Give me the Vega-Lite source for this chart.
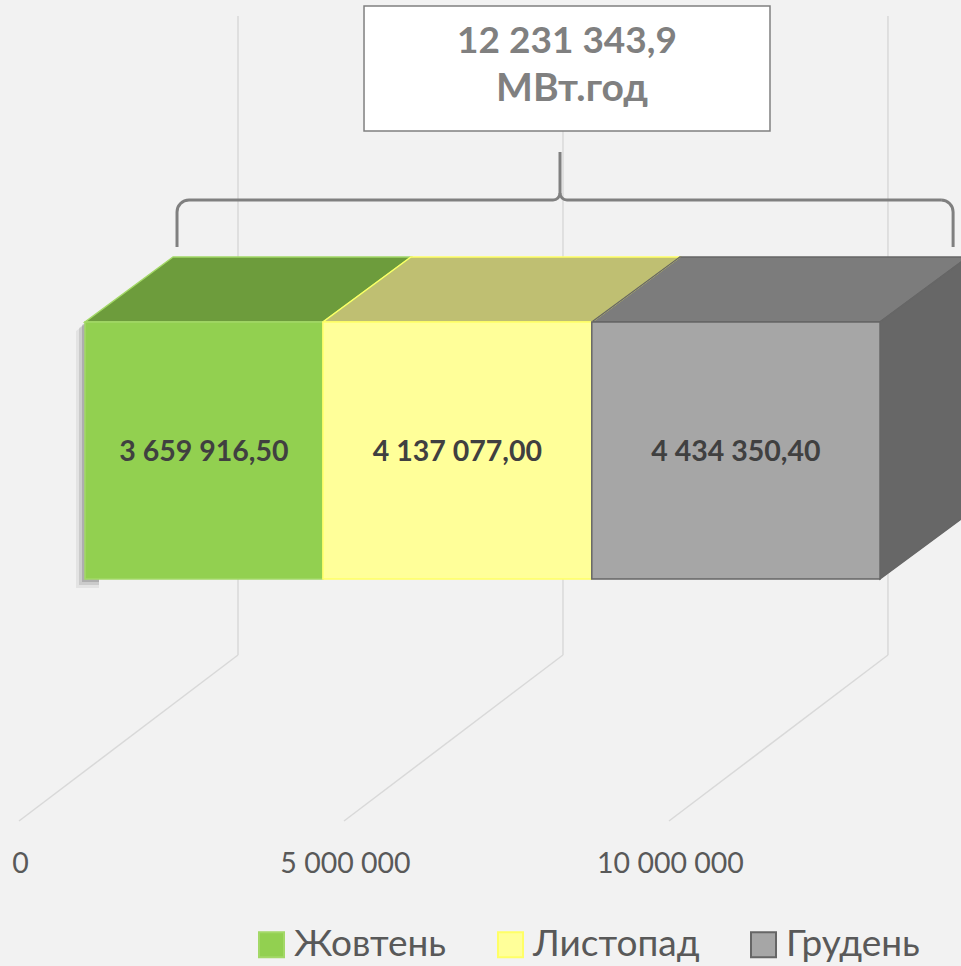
{
  "$schema": "https://vega.github.io/schema/vega-lite/v6.json",
  "width": 961,
  "height": 966,
  "autosize": {"type": "none"},
  "padding": 0,
  "background": "#f2f2f2",
  "config": {
    "view": {"stroke": null},
    "locale": {"number": {"decimal": ",", "thousands": " ", "grouping": [3], "currency": ["", ""]}},
    "axis": {"grid": false, "domain": false, "ticks": false}
  },
  "datasets": {
    "months": [
      {"month": "Жовтень", "order": 1, "value": 3659916.5},
      {"month": "Листопад", "order": 2, "value": 4137077.0},
      {"month": "Грудень", "order": 3, "value": 4434350.4}
    ],
    "ticks": [{"t": 0}, {"t": 5000000}, {"t": 10000000}]
  },
  "layer": [
    {
      "data": {"name": "ticks"},
      "transform": [
        {"calculate": "datum.t + 2353905", "as": "xb"},
        {"calculate": "datum.t - 1015410", "as": "xf"}
      ],
      "layer": [
        {
          "mark": {"type": "rule", "color": "#d9d9d9", "strokeWidth": 1.5},
          "encoding": {
            "x": {
              "field": "xb", "type": "quantitative",
              "scale": {"domain": [-1307725, 13477260], "nice": false, "zero": false},
              "axis": {"orient": "bottom", "values": [0, 5000000, 10000000], "format": ",.0f", "title": null, "labelFont": "Lato", "labelFontSize": 28.5, "labelColor": "#595959", "labelOffset": -65, "labelFlush": false, "labelOverlap": false, "offset": -119, "labelPadding": 2, "domain": false, "ticks": false, "grid": false}
            },
            "y": {"datum": -0.29572, "type": "quantitative", "scale": {"domain": [-1.50584, 2.25292], "nice": false, "zero": false}, "axis": null},
            "y2": {"datum": 2.19066}
          }
        },
        {
          "mark": {"type": "rule", "color": "#d9d9d9", "strokeWidth": 1.5},
          "encoding": {
            "x": {"field": "xb", "type": "quantitative"},
            "x2": {"field": "xf"},
            "y": {"datum": -0.29572, "type": "quantitative", "axis": null},
            "y2": {"datum": -0.94163}
          }
        }
      ]
    },
    {
      "data": {"name": "months"},
      "transform": [
        {"filter": "datum.order == 1"},
        {"calculate": "[0, 1, 2]", "as": "d"},
        {"flatten": ["d"]},
        {"calculate": "datum.d == 0 ? 0 : (datum.d == 1 ? 1 : 1.25292)", "as": "yv"},
        {"calculate": "datum.d == 2 ? 1353880 : 0", "as": "xo"}
      ],
      "layer": [
        {
          "transform": [
            {"calculate": "datum.xo - 138465", "as": "sx1"},
            {"calculate": "datum.xo + 215390", "as": "sx2"},
            {"calculate": "datum.yv - 0.035", "as": "sy"}
          ],
          "mark": {"type": "area", "orient": "horizontal", "interpolate": "linear", "fill": "#000000", "fillOpacity": 0.06},
          "encoding": {
            "y": {"field": "sy", "type": "quantitative", "axis": null},
            "x": {"field": "sx1", "type": "quantitative", "stack": null},
            "x2": {"field": "sx2"}
          }
        },
        {
          "transform": [
            {"calculate": "datum.xo - 92310", "as": "sx1"},
            {"calculate": "datum.xo + 215390", "as": "sx2"},
            {"calculate": "datum.yv - 0.0233", "as": "sy"}
          ],
          "mark": {"type": "area", "orient": "horizontal", "interpolate": "linear", "fill": "#000000", "fillOpacity": 0.1},
          "encoding": {
            "y": {"field": "sy", "type": "quantitative", "axis": null},
            "x": {"field": "sx1", "type": "quantitative", "stack": null},
            "x2": {"field": "sx2"}
          }
        },
        {
          "transform": [
            {"calculate": "datum.xo - 46155", "as": "sx1"},
            {"calculate": "datum.xo + 215390", "as": "sx2"},
            {"calculate": "datum.yv - 0.0117", "as": "sy"}
          ],
          "mark": {"type": "area", "orient": "horizontal", "interpolate": "linear", "fill": "#000000", "fillOpacity": 0.14},
          "encoding": {
            "y": {"field": "sy", "type": "quantitative", "axis": null},
            "x": {"field": "sx1", "type": "quantitative", "stack": null},
            "x2": {"field": "sx2"}
          }
        }
      ]
    },
    {
      "data": {"name": "months"},
      "transform": [
        {"stack": "value", "groupby": [], "sort": [{"field": "order", "order": "ascending"}], "as": ["start", "end"]},
        {"calculate": "[0, 1]", "as": "d"},
        {"flatten": ["d"]},
        {"calculate": "datum.start + datum.d * 1353880", "as": "xs"},
        {"calculate": "datum.end + datum.d * 1353880", "as": "xe"},
        {"calculate": "1 + datum.d * 0.25292", "as": "yt"}
      ],
      "layer": [
        {
          "mark": {"type": "area", "orient": "horizontal", "interpolate": "linear"},
          "encoding": {
            "y": {"field": "yt", "type": "quantitative", "axis": null},
            "x": {"field": "xs", "type": "quantitative", "stack": null},
            "x2": {"field": "xe"},
            "fill": {"field": "month", "type": "nominal", "scale": {"domain": ["Жовтень", "Листопад", "Грудень"], "range": ["#92d050", "#ffff99", "#a6a6a6"]}},
            "detail": {"field": "month", "type": "nominal"}
          }
        },
        {
          "mark": {"type": "area", "orient": "horizontal", "interpolate": "linear", "fill": "#000000", "fillOpacity": 0.25},
          "encoding": {
            "y": {"field": "yt", "type": "quantitative", "axis": null},
            "x": {"field": "xs", "type": "quantitative", "stack": null},
            "x2": {"field": "xe"},
            "detail": {"field": "month", "type": "nominal"}
          }
        },
        {
          "mark": {"type": "area", "orient": "horizontal", "interpolate": "linear", "fillOpacity": 0, "strokeWidth": 1.5},
          "encoding": {
            "y": {"field": "yt", "type": "quantitative", "axis": null},
            "x": {"field": "xs", "type": "quantitative", "stack": null},
            "x2": {"field": "xe"},
            "stroke": {"field": "month", "type": "nominal", "scale": {"domain": ["Жовтень", "Листопад", "Грудень"], "range": ["#a3d867", "#ffff66", "#666666"]}},
            "detail": {"field": "month", "type": "nominal"}
          }
        }
      ]
    },
    {
      "data": {"name": "months"},
      "transform": [
        {"stack": "value", "groupby": [], "sort": [{"field": "order", "order": "ascending"}], "as": ["start", "end"]},
        {"filter": "datum.order == 3"},
        {"calculate": "[0, 1]", "as": "d"},
        {"flatten": ["d"]},
        {"calculate": "datum.end + datum.d * 1353880", "as": "xs"},
        {"calculate": "datum.d * 0.25292", "as": "y0"},
        {"calculate": "1 + datum.d * 0.25292", "as": "y1"}
      ],
      "layer": [
        {
          "mark": {"type": "area", "orient": "vertical", "interpolate": "linear"},
          "encoding": {
            "x": {"field": "xs", "type": "quantitative"},
            "y": {"field": "y0", "type": "quantitative", "axis": null, "stack": null},
            "y2": {"field": "y1"},
            "fill": {"field": "month", "type": "nominal"}
          }
        },
        {
          "mark": {"type": "area", "orient": "vertical", "interpolate": "linear", "fill": "#000000", "fillOpacity": 0.38},
          "encoding": {
            "x": {"field": "xs", "type": "quantitative"},
            "y": {"field": "y0", "type": "quantitative", "axis": null, "stack": null},
            "y2": {"field": "y1"}
          }
        },
        {
          "mark": {"type": "area", "orient": "vertical", "interpolate": "linear", "fillOpacity": 0, "strokeWidth": 1.5},
          "encoding": {
            "x": {"field": "xs", "type": "quantitative"},
            "y": {"field": "y0", "type": "quantitative", "axis": null, "stack": null},
            "y2": {"field": "y1"},
            "stroke": {"field": "month", "type": "nominal"}
          }
        }
      ]
    },
    {
      "data": {"name": "months"},
      "transform": [
        {"stack": "value", "groupby": [], "sort": [{"field": "order", "order": "ascending"}], "as": ["start", "end"]},
        {"calculate": "(datum.start + datum.end) / 2", "as": "mid"}
      ],
      "layer": [
        {
          "mark": {"type": "rect", "strokeWidth": 1.5},
          "encoding": {
            "x": {"field": "start", "type": "quantitative"},
            "x2": {"field": "end"},
            "y": {"datum": 0, "type": "quantitative", "axis": null},
            "y2": {"datum": 1},
            "fill": {
              "field": "month", "type": "nominal",
              "legend": {"title": null, "orient": "none", "legendX": 253, "legendY": 926, "direction": "horizontal", "symbolType": "square", "symbolSize": 625, "symbolStrokeWidth": 2, "symbolOpacity": 1, "labelFont": "Lato, Open Sans", "labelFontSize": 37, "labelColor": "#595959", "labelOffset": 4, "labelLimit": 400, "columnPadding": 45, "padding": 0}
            },
            "stroke": {
              "field": "month", "type": "nominal",
              "legend": {"title": null, "orient": "none", "legendX": 253, "legendY": 926, "direction": "horizontal", "symbolType": "square", "symbolSize": 625, "symbolStrokeWidth": 2, "symbolOpacity": 1, "labelFont": "Lato, Open Sans", "labelFontSize": 37, "labelColor": "#595959", "labelOffset": 4, "labelLimit": 400, "columnPadding": 45, "padding": 0}
            }
          }
        },
        {
          "mark": {"type": "text", "font": "Lato", "fontWeight": "bold", "fontSize": 28.5, "color": "#404040", "baseline": "middle", "align": "center", "dy": 2},
          "encoding": {
            "x": {"field": "mid", "type": "quantitative"},
            "y": {"datum": 0.5, "type": "quantitative", "axis": null},
            "text": {"field": "value", "type": "quantitative", "format": ",.2f"}
          }
        }
      ]
    },
    {
      "data": {"name": "months"},
      "transform": [
        {"aggregate": [{"op": "sum", "field": "value", "as": "total"}]},
        {"calculate": "datum.total / 2 + 1300000", "as": "c"},
        {"calculate": "datum.c - 3123000", "as": "bx1"},
        {"calculate": "datum.c + 3123000", "as": "bx2"},
        {"calculate": "datum.c - 6000000", "as": "xL"},
        {"calculate": "datum.xL + 184620", "as": "xLc"},
        {"calculate": "datum.c - 107700", "as": "xT"},
        {"calculate": "datum.xT - 107695", "as": "xTl"},
        {"calculate": "datum.xT + 107695", "as": "xTr"},
        {"calculate": "datum.c + 5940000", "as": "xR"},
        {"calculate": "datum.xR - 184620", "as": "xRc"}
      ],
      "layer": [
        {
          "mark": {"type": "rect", "fill": "#ffffff", "stroke": "#808080", "strokeWidth": 1.5},
          "encoding": {
            "x": {"field": "bx1", "type": "quantitative"},
            "x2": {"field": "bx2"},
            "y": {"datum": 1.74319, "type": "quantitative", "axis": null},
            "y2": {"datum": 2.22957}
          }
        },
        {
          "mark": {"type": "text", "font": "Lato", "fontWeight": "bold", "fontSize": 37, "color": "#808080", "baseline": "middle", "align": "center"},
          "encoding": {
            "x": {"field": "c", "type": "quantitative"},
            "y": {"datum": 2.08949, "type": "quantitative", "axis": null},
            "text": {"field": "total", "type": "quantitative", "format": ",.1f"}
          }
        },
        {
          "mark": {"type": "text", "font": "Lato, Open Sans", "fontWeight": "bold", "fontSize": 39, "color": "#808080", "baseline": "middle", "align": "center", "dx": 5, "text": "МВт.год"},
          "encoding": {
            "x": {"field": "c", "type": "quantitative"},
            "y": {"datum": 1.90661, "type": "quantitative", "axis": null}
          }
        },
        {
          "mark": {"type": "rule", "color": "#808080", "strokeWidth": 3},
          "encoding": {
            "x": {"field": "xL", "type": "quantitative"},
            "y": {"datum": 1.29183, "type": "quantitative", "axis": null},
            "y2": {"datum": 1.42802}
          }
        },
        {
          "mark": {"type": "rule", "color": "#808080", "strokeWidth": 3},
          "encoding": {
            "x": {"field": "xR", "type": "quantitative"},
            "y": {"datum": 1.29183, "type": "quantitative", "axis": null},
            "y2": {"datum": 1.42802}
          }
        },
        {
          "mark": {"type": "rule", "color": "#808080", "strokeWidth": 3},
          "encoding": {
            "x": {"field": "xLc", "type": "quantitative"},
            "x2": {"field": "xTl"},
            "y": {"datum": 1.47471, "type": "quantitative", "axis": null}
          }
        },
        {
          "mark": {"type": "rule", "color": "#808080", "strokeWidth": 3},
          "encoding": {
            "x": {"field": "xTr", "type": "quantitative"},
            "x2": {"field": "xRc"},
            "y": {"datum": 1.47471, "type": "quantitative", "axis": null}
          }
        },
        {
          "mark": {"type": "rule", "color": "#808080", "strokeWidth": 3},
          "encoding": {
            "x": {"field": "xT", "type": "quantitative"},
            "y": {"datum": 1.50195, "type": "quantitative", "axis": null},
            "y2": {"datum": 1.66148}
          }
        },
        {
          "mark": {"type": "arc", "radius": 13.5, "radius2": 10.5, "theta": 4.712389, "theta2": 6.283185, "fill": "#808080"},
          "encoding": {
            "x": {"field": "xLc", "type": "quantitative"},
            "y": {"datum": 1.42802, "type": "quantitative", "axis": null}
          }
        },
        {
          "mark": {"type": "arc", "radius": 13.5, "radius2": 10.5, "theta": 0, "theta2": 1.570796, "fill": "#808080"},
          "encoding": {
            "x": {"field": "xRc", "type": "quantitative"},
            "y": {"datum": 1.42802, "type": "quantitative", "axis": null}
          }
        },
        {
          "mark": {"type": "arc", "radius": 8.5, "radius2": 5.5, "theta": 1.570796, "theta2": 3.141593, "fill": "#808080"},
          "encoding": {
            "x": {"field": "xTl", "type": "quantitative"},
            "y": {"datum": 1.50195, "type": "quantitative", "axis": null}
          }
        },
        {
          "mark": {"type": "arc", "radius": 8.5, "radius2": 5.5, "theta": 3.141593, "theta2": 4.712389, "fill": "#808080"},
          "encoding": {
            "x": {"field": "xTr", "type": "quantitative"},
            "y": {"datum": 1.50195, "type": "quantitative", "axis": null}
          }
        }
      ]
    }
  ]
}
